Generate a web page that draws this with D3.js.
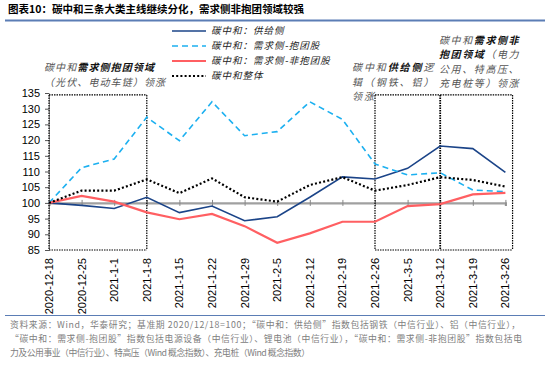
<!DOCTYPE html>
<html>
<head>
<meta charset="utf-8">
<script src="https://cdn.jsdelivr.net/npm/d3@7"></script>
<style>
	body{margin:0;background:#fff;}
	svg{display:block;}
	.cjk{font-family:"Noto Sans CJK SC",sans-serif;}
	.num{font-family:"Liberation Sans",Arial,sans-serif;font-size:11px;fill:#000;}
</style>
</head>
<body>
<div id="plot"></div>
<script>
//data, base 2020/12/18 = 100
var dates = ['2020-12-18','2020-12-25','2021-1-1','2021-1-8','2021-1-15','2021-1-22','2021-1-29','2021-2-5','2021-2-12','2021-2-19','2021-2-26','2021-3-5','2021-3-12','2021-3-19','2021-3-26'];
var supply = [100,99.2,98.2,101.8,96.9,99.0,94.3,95.6,101.8,108.3,107.6,111.0,118.1,117.3,109.7];
var demandHot = [100,111.2,114.0,127.3,119.8,132.2,121.4,122.7,132.2,126.6,112.4,108.9,109.6,104.1,103.6];
var demandOther = [100,102.2,100.4,97.0,94.8,96.5,92.6,87.3,90.3,94.0,94.0,99.0,99.6,102.7,103.2];
var overall = [100,103.9,103.9,107.5,103.1,107.8,101.8,100.4,105.7,108.2,103.9,105.7,108.2,107.3,105.2];
var yTicks = [85,90,95,100,105,110,115,120,125,130,135];
var seriesNames = ['碳中和：供给侧','碳中和：需求侧-抱团股','碳中和：需求侧-非抱团股','碳中和整体'];

//highlighted periods, in category index units
var boxes = [[0,3],[10,12],[12,14.22]];

var title = '图表10：碳中和三条大类主线继续分化，需求侧非抱团领域较强';
var sourceLines = [
	'资料来源：Wind，华泰研究；基准期 2020/12/18=100；“碳中和：供给侧”指数包括钢铁（中信行业）、铝（中信行业），',
	'“碳中和：需求侧-抱团股”指数包括电源设备（中信行业）、锂电池（中信行业），“碳中和：需求侧-非抱团股”指数包括电',
	'力及公用事业（中信行业）、特高压（Wind 概念指数）、充电桩（Wind 概念指数）'
];
var sourceWidths = [510,512,300];
//annotation rows: [text, bold]
var noteLeft = [
	[['碳中和',false],['需求侧抱团领域',true]],
	[['（光伏、电动车链）领涨',false]]
];
var noteMid = [
	[['碳中和',false],['供给侧',true],['逻',false]],
	[['辑（钢铁、铝）',false]],
	[['领涨',false]]
];
var noteRight = [
	[['碳中和',false],['需求侧非',true]],
	[['抱团领域',true],['（电力',false]],
	[['公用、特高压、',false]],
	[['充电桩等）领涨',false]]
];

var W = 550, H = 365;
var svg = d3.select('#plot').append('svg')
	.attr('width',W).attr('height',H);

var series = [
	{name:seriesNames[0], values:supply, color:'#1B4488', width:1.6, dash:null},
	{name:seriesNames[1], values:demandHot, color:'#1CB0F0', width:1.6, dash:'6,4'},
	{name:seriesNames[2], values:demandOther, color:'#FF5F62', width:2.2, dash:null},
	{name:seriesNames[3], values:overall, color:'#000', width:2.2, dash:'2,2.2'}
];

var scaleX = d3.scaleLinear().domain([0,dates.length-1]).range([49,505.4]),
	scaleY = d3.scaleLinear().domain([85,135]).range([250,93]);

//title + rules
svg.append('text').attr('class','cjk')
	.attr('x',8).attr('y',13)
	.style('font-size','10.5px').style('font-weight','bold')
	.text(title);
svg.append('line').attr('x1',5).attr('x2',545).attr('y1',20.5).attr('y2',20.5)
	.attr('stroke','#5B7DB5').attr('stroke-width',2);
svg.append('line').attr('x1',5).attr('x2',545).attr('y1',315.5).attr('y2',315.5)
	.attr('stroke','#5B7DB5').attr('stroke-width',1);

var plot = svg.append('g');

//y axis
var yAxis = d3.axisLeft(scaleY).tickValues(yTicks).tickSize(4).tickPadding(5);
plot.append('g').attr('class','axis-y')
	.attr('transform','translate('+scaleX(0)+',0)')
	.call(yAxis)
	.call(function(g){
		g.select('.domain').attr('stroke','#999');
		g.selectAll('.tick line').attr('stroke','#555');
		g.selectAll('.tick text').attr('class','num');
	});

//x axis crosses at 100, labels at the bottom
var xAxis = d3.axisBottom(scaleX).tickValues(d3.range(dates.length)).tickSize(3).tickFormat('');
plot.append('g').attr('class','axis-x')
	.attr('transform','translate(0,'+scaleY(100)+')')
	.call(xAxis)
	.call(function(g){
		g.select('.domain').attr('stroke','#A0A0A0').attr('stroke-width',2.2);
		g.selectAll('.tick line').attr('stroke','#888').attr('y1',-3);
	});

plot.append('g').selectAll('text')
	.data(dates)
	.enter().append('text')
	.attr('class','num')
	.attr('text-anchor','end')
	.attr('transform',function(d,i){return 'translate('+(scaleX(i)+4)+',258) rotate(-90)'})
	.text(function(d){return d});

//dotted boxes: horizontal edges per box, shared vertical edges drawn once
var boxTop = scaleY(134.4), boxBottom = scaleY(85);
var edges = [];
boxes.forEach(function(b){ b.forEach(function(v){ if(edges.indexOf(v)<0) edges.push(v); }); });
var boxG = plot.append('g')
	.attr('stroke','#000').attr('stroke-width',1.2).attr('stroke-dasharray','1.5,1');
boxG.selectAll('.h-edge')
	.data(d3.merge(boxes.map(function(b){return [[b,boxTop],[b,boxBottom]]})))
	.enter().append('line').attr('class','h-edge')
	.attr('x1',function(d){return scaleX(d[0][0])})
	.attr('x2',function(d){return scaleX(d[0][1])})
	.attr('y1',function(d){return d[1]})
	.attr('y2',function(d){return d[1]});
boxG.selectAll('.v-edge')
	.data(edges)
	.enter().append('line').attr('class','v-edge')
	.attr('x1',function(d){return scaleX(d)})
	.attr('x2',function(d){return scaleX(d)})
	.attr('y1',boxTop).attr('y2',boxBottom)
	.attr('stroke-width',function(d){return d===12 ? 1.8 : 1.2});

//lines
var line = d3.line()
	.x(function(d,i){return scaleX(i)})
	.y(function(d){return scaleY(d)});

plot.append('g').selectAll('path')
	.data(series)
	.enter().append('path')
	.attr('d',function(d){return line(d.values)})
	.attr('fill','none')
	.attr('stroke',function(d){return d.color})
	.attr('stroke-width',function(d){return d.width})
	.attr('stroke-dasharray',function(d){return d.dash});

//legend
var legend = svg.append('g').selectAll('.legend')
	.data(series)
	.enter().append('g').attr('class','legend')
	.attr('transform',function(d,i){return 'translate(172,'+(31 + i*15)+')'});
legend.append('line')
	.attr('x1',0).attr('x2',34)
	.attr('stroke',function(d){return d.color})
	.attr('stroke-width',function(d){return d.width})
	.attr('stroke-dasharray',function(d){return d.dash});
legend.append('text').attr('class','cjk')
	.attr('x',39).attr('dy','0.35em')
	.style('font-size','9.5px').style('letter-spacing','1px').style('font-style','italic')
	.attr('fill','#222')
	.text(function(d){return d.name});

//annotations
function drawNote(rows,x,y0,step,ls){
	var t = svg.append('text').attr('class','cjk')
		.style('font-size','10px').style('font-style','italic').style('letter-spacing',ls+'px');
	rows.forEach(function(row,r){
		row.forEach(function(seg,k){
			var ts = t.append('tspan').text(seg[0])
				.attr('fill',seg[1] ? '#111' : '#555')
				.style('font-weight',seg[1] ? 'bold' : 'normal');
			if(k===0) ts.attr('x',x).attr('y',y0 + r*step);
		});
	});
}
drawNote(noteLeft,44,71,14.5,1.1);
drawNote(noteMid,352,71,14.5,1.9);
drawNote(noteRight,439,44,14.3,1.6);

//source
svg.append('g').selectAll('text')
	.data(sourceLines)
	.enter().append('text').attr('class','cjk')
	.attr('x',10)
	.attr('y',function(d,i){return 328 + i*14})
	.attr('textLength',function(d,i){return sourceWidths[i]})
	.attr('lengthAdjust','spacing')
	.style('font-size','8.8px')
	.attr('fill','#808080')
	.text(function(d){return d});
</script>
</body>
</html>
